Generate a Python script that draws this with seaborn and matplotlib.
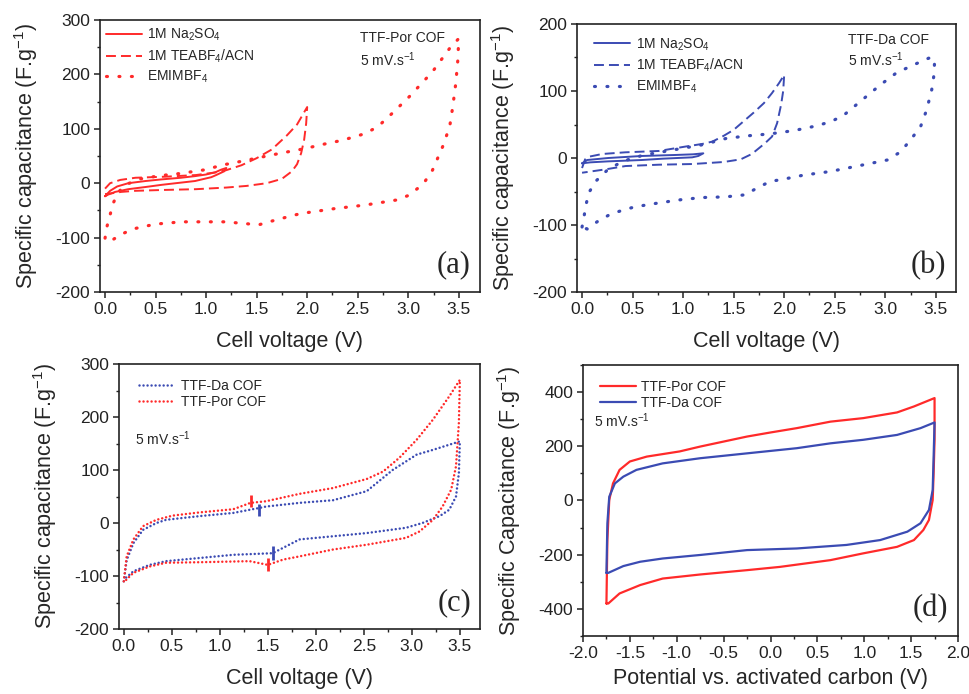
import numpy as np
import pandas as pd
import seaborn as sns
import matplotlib.pyplot as plt
from matplotlib.ticker import MultipleLocator

# ---- data (each loop: forward branch then return branch) ----
# (a) TTF-Por COF in three electrolytes
a_na2so4_v = [0, 0.05, 0.12, 0.23, 0.4, 0.56, 0.75, 0.89, 1.0, 1.09, 1.15, 1.2,
              1.18, 1.1, 1.05, 0.89, 0.7, 0.56, 0.4, 0.23, 0.1, 0.03, 0]
a_na2so4_c = [-24, -14, -6, 0, 4, 7, 10, 13, 16, 20, 25, 28,
              22, 15, 11, 4, 0, -3, -7, -11, -16, -21, -24]
a_teabf4_v = [0, 0.05, 0.15, 0.3, 0.6, 0.9, 1.1, 1.2, 1.35, 1.5, 1.65, 1.8, 1.9, 2.0,
              1.99, 1.97, 1.94, 1.9, 1.85, 1.75, 1.6, 1.4, 1.2, 0.9, 0.56, 0.3, 0.16, 0.05, 0]
a_teabf4_c = [-10, 0, 6, 10, 12, 15, 20, 24, 33, 46, 62, 88, 108, 140,
              110, 80, 55, 35, 22, 8, 0, -5, -8, -11, -12.5, -14, -16, -19, -20]
a_emim_v = [0, 0.017, 0.05, 0.08, 0.13, 0.2, 0.35, 0.55, 0.75, 1.0, 1.15, 1.37, 1.6, 1.76,
            1.99, 2.12, 2.35, 2.57, 2.7, 2.85, 3.01, 3.24, 3.41, 3.5,
            3.49, 3.47, 3.44, 3.41, 3.34, 3.24, 3.15, 3.01, 2.88, 2.58, 2.26, 1.93, 1.7,
            1.53, 1.43, 1.19, 0.96, 0.76, 0.51, 0.4, 0.28, 0.16, 0.05, 0]
a_emim_c = [-101, -81, -58, -37, -17, -3, 8, 14, 18, 25, 33, 41, 50, 56,
            64, 70, 79, 91, 104, 130, 159, 205, 248, 266,
            225, 183, 140, 104, 67, 24, -1, -22, -31, -40, -47, -56, -67,
            -76, -75, -71, -71, -71, -75, -79, -84, -94, -107, -101]

# (b) TTF-Da COF in three electrolytes
b_na2so4_v = [0, 0.05, 0.26, 0.59, 0.92, 1.1, 1.2, 1.15, 1.09, 0.8, 0.59, 0.26, 0.08, 0]
b_na2so4_c = [-8, -3, 0, 3, 4.5, 5.5, 7, 3, 1, -1, -3, -5, -6.5, -8]
b_teabf4_v = [0, 0.03, 0.07, 0.2, 0.43, 0.76, 1.02, 1.19, 1.29, 1.4, 1.5, 1.6, 1.7, 1.8,
              1.88, 1.95, 2.0, 1.99, 1.97, 1.93, 1.88, 1.81, 1.68, 1.57, 1.4, 1.09, 0.76,
              0.43, 0.23, 0]
b_teabf4_c = [-15, -2, 2, 6, 8.5, 10.5, 17, 21, 24.5, 33, 42, 55, 68, 82,
              97, 112, 124, 100, 80, 52, 32, 22, 6, -2, -6, -9, -10,
              -12, -17, -22]
b_emim_v = [0, 0.02, 0.04, 0.07, 0.14, 0.25, 0.4, 0.6, 0.9, 1.2, 1.42, 1.63, 1.86, 2.1,
            2.29, 2.46, 2.59, 2.79, 2.95, 3.11, 3.28, 3.43, 3.49,
            3.48, 3.46, 3.41, 3.35, 3.25, 3.15, 3.02, 2.79, 2.46, 2.32, 2.21, 1.98, 1.86,
            1.73, 1.61, 1.42, 1.19, 0.99, 0.76, 0.52, 0.4, 0.28, 0.16, 0.05, 0]
b_emim_c = [-103, -87, -69, -51, -34, -18, -5, 4, 12, 20, 29, 33, 36, 41,
            47, 54, 64, 89, 109, 127, 139, 149, 148,
            122, 102, 72, 47, 27, 9, -3, -10, -20, -23, -25, -32, -35,
            -45, -55, -58, -59, -62, -67, -73, -78, -84, -94, -106, -103]

# (c) both COFs in EMIMBF4
c_da_v = [0, 0.03, 0.1, 0.2, 0.34, 0.44, 0.79, 1.14, 1.4, 1.48, 1.83, 2.18, 2.53, 2.8,
          3.05, 3.22, 3.5, 3.49, 3.46, 3.39, 3.29, 3.11, 2.94, 2.53, 2.18, 1.83, 1.69,
          1.55, 1.14, 0.79, 0.44, 0.27, 0.1, 0]
c_da_c = [-110, -70, -38, -13, 0, 6, 13, 19, 28, 31, 38, 43, 60, 100,
          129, 138, 154, 94, 50, 25, 13, 0, -9, -19, -25, -31, -44,
          -57, -60, -66, -72, -79, -91, -107]
c_por_v = [0, 0.03, 0.1, 0.2, 0.34, 0.51, 0.79, 1.14, 1.32, 1.48, 1.83, 2.18, 2.53, 2.7,
           2.87, 3.05, 3.22, 3.39, 3.5, 3.49, 3.46, 3.41, 3.32, 3.22, 3.08, 2.94, 2.53,
           2.18, 1.83, 1.66, 1.5, 1.31, 0.79, 0.44, 0.27, 0.1, 0.01]
c_por_c = [-110, -63, -31, -6, 6, 14, 20, 26, 38, 41, 55, 66, 83, 97,
           123, 157, 195, 239, 270, 189, 107, 63, 31, 6, -16, -28, -41,
           -50, -63, -69, -79, -72, -74, -75, -82, -94, -110]
c_glitch_da_v = [1.41, 1.55]
c_glitch_da_lo = [13, -69]
c_glitch_da_hi = [36, -44]
c_glitch_por_v = [1.32, 1.50]
c_glitch_por_lo = [30, -91]
c_glitch_por_hi = [53, -66]

# (d) asymmetric cells vs activated carbon
d_por_v = [-1.75, -1.74, -1.72, -1.68, -1.61, -1.5, -1.32, -0.97, -0.75, -0.25, 0, 0.28,
           0.64, 0.99, 1.35, 1.53, 1.75, 1.75, 1.74, 1.73, 1.69, 1.63, 1.53, 1.35, 0.99,
           0.64, 0.1, -0.25, -0.75, -1.15, -1.39, -1.61, -1.73, -1.75]
d_por_c = [-380, -146, 2, 63, 113, 144, 162, 181, 199, 236, 251, 267,
           291, 304, 325, 347, 378, 224, 100, 2, -72, -109, -146, -171, -195,
           -220, -245, -257, -273, -288, -312, -343, -380, -380]
d_da_v = [-1.75, -1.74, -1.72, -1.66, -1.57, -1.43, -1.15, -0.75, -0.25, 0.28, 0.64, 0.99,
          1.35, 1.6, 1.75, 1.74, 1.73, 1.69, 1.6, 1.46, 1.17, 0.81, 0.28, -0.25, -0.75,
          -1.15, -1.39, -1.57, -1.73, -1.75]
d_da_c = [-267, -84, 14, 63, 88, 113, 137, 156, 174, 193, 211, 224,
          242, 267, 288, 162, 39, -35, -84, -115, -146, -164, -177, -183, -201,
          -214, -226, -242, -267, -267]

RED = "#ff2a2a"
BLUE = "#3b4bb3"
DOTS = (0, (0.3, 3.6))
DASH = (0, (5.1, 2.6))
FINE = (0, (0.01, 1.6))

sns.set_theme(style="ticks")
plt.rcParams["font.family"] = ["Liberation Sans", "DejaVu Sans"]
plt.rcParams["mathtext.default"] = "regular"
plt.rcParams["axes.unicode_minus"] = False
plt.rcParams["axes.edgecolor"] = "#222222"
plt.rcParams["axes.linewidth"] = 1.2

fig = plt.figure(figsize=(9.69, 6.94), dpi=100)
W, H = 969, 694


def add_ax(left, top, right, bottom):
    return fig.add_axes([left / W, 1 - bottom / H, (right - left) / W, (bottom - top) / H])


def style(ax, xlim, ylim, xmaj, xmin, ymaj, ymin, xlabel, ylabel, tag, xpad=10.5):
    ax.set_xlim(*xlim)
    ax.set_ylim(*ylim)
    ax.xaxis.set_major_locator(MultipleLocator(xmaj))
    ax.xaxis.set_minor_locator(MultipleLocator(xmin))
    ax.yaxis.set_major_locator(MultipleLocator(ymaj))
    ax.yaxis.set_minor_locator(MultipleLocator(ymin))
    ax.tick_params(which="major", direction="out", length=4, width=1.1,
                   labelsize=12.5, colors="#222222", pad=3)
    ax.tick_params(which="minor", direction="out", length=2.5, width=1.0, colors="#222222")
    ax.xaxis.set_major_formatter(plt.FormatStrFormatter("%.1f"))
    ax.set_xlabel(xlabel, fontsize=15.5, labelpad=xpad)
    ax.set_ylabel(ylabel, fontsize=15.5, labelpad=11)
    ax.text(0.975, 0.1, tag, transform=ax.transAxes, ha="right", va="center",
            fontsize=22, family=["Liberation Serif", "DejaVu Serif"])


def curve(ax, v, c, color, ls, lw, label, cap="butt"):
    sns.lineplot(x=v, y=c, sort=False, estimator=None, ax=ax, color=color,
                 linestyle=ls, linewidth=lw, label=label, dash_capstyle=cap)


def legend(ax, x, y, size=10, spacing=0.3):
    ax.legend(loc="upper left", bbox_to_anchor=(x, y), frameon=False, fontsize=size,
              handlelength=2.6, handletextpad=0.4, labelspacing=spacing, borderaxespad=0)


ylab = "Specific capacitance (F.g$^{-1}$)"
xlab = "Cell voltage (V)"

# (a)
ax = add_ax(100, 20, 480, 292)
curve(ax, a_na2so4_v, a_na2so4_c, RED, "-", 1.4, "1M Na$_2$SO$_4$")
curve(ax, a_teabf4_v, a_teabf4_c, RED, DASH, 1.4, "1M TEABF$_4$/ACN")
curve(ax, a_emim_v, a_emim_c, RED, DOTS, 2.3, "EMIMBF$_4$", cap="round")
legend(ax, 0.0, 0.995)
ax.text(0.685, 0.96, "TTF-Por COF", transform=ax.transAxes, fontsize=10, va="top")
ax.text(0.685, 0.89, "5 mV.s$^{-1}$", transform=ax.transAxes, fontsize=10, va="top")
style(ax, (-0.05, 3.71), (-200, 300), 0.5, 0.25, 100, 50, xlab, ylab, "(a)")

# (b)
ax = add_ax(577, 24, 956, 292)
curve(ax, b_na2so4_v, b_na2so4_c, BLUE, "-", 1.4, "1M Na$_2$SO$_4$")
curve(ax, b_teabf4_v, b_teabf4_c, BLUE, DASH, 1.4, "1M TEABF$_4$/ACN")
curve(ax, b_emim_v, b_emim_c, BLUE, DOTS, 2.3, "EMIMBF$_4$", cap="round")
legend(ax, 0.03, 0.975)
ax.text(0.715, 0.965, "TTF-Da COF", transform=ax.transAxes, fontsize=10, va="top")
ax.text(0.715, 0.9, "5 mV.s$^{-1}$", transform=ax.transAxes, fontsize=10, va="top")
style(ax, (-0.05, 3.7), (-200, 200), 0.5, 0.25, 100, 50, xlab, ylab, "(b)")

# (c)
ax = add_ax(119, 364, 480, 629)
curve(ax, c_da_v, c_da_c, BLUE, FINE, 1.8, "TTF-Da COF", cap="round")
curve(ax, c_por_v, c_por_c, RED, FINE, 1.8, "TTF-Por COF", cap="round")
ax.vlines(c_glitch_da_v, c_glitch_da_lo, c_glitch_da_hi, color=BLUE, lw=2)
ax.vlines(c_glitch_por_v, c_glitch_por_lo, c_glitch_por_hi, color=RED, lw=2)
legend(ax, 0.04, 0.965, spacing=0.15)
ax.text(0.045, 0.72, "5 mV.s$^{-1}$", transform=ax.transAxes, fontsize=10, va="center")
style(ax, (-0.05, 3.71), (-200, 300), 0.5, 0.25, 100, 50, xlab, ylab, "(c)")

# (d)
ax = add_ax(583, 365, 958, 636)
curve(ax, d_por_v, d_por_c, RED, "-", 1.6, "TTF-Por COF")
curve(ax, d_da_v, d_da_c, BLUE, "-", 1.6, "TTF-Da COF")
legend(ax, 0.03, 0.965, spacing=0.15)
ax.text(0.03, 0.795, "5 mV.s$^{-1}$", transform=ax.transAxes, fontsize=10, va="center")
style(ax, (-2.0, 2.0), (-500, 500), 0.5, 0.25, 200, 100,
      "Potential vs. activated carbon (V)", "Specific Capacitance (F.g$^{-1}$)", "(d)",
      xpad=5)

fig.savefig("out.png", dpi=100)
